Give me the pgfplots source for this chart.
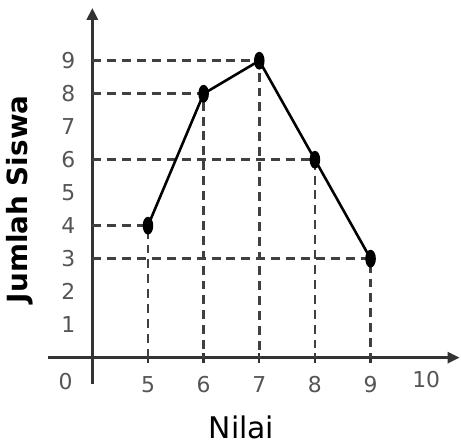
\documentclass[border=0pt]{standalone}
\usepackage{fontspec}
\setmainfont{DejaVu Sans}
\usepackage{pgfplots}
\pgfplotsset{compat=1.18}
\usetikzlibrary{arrows.meta}

\definecolor{axisgray}{HTML}{333333}
\definecolor{dashgray}{HTML}{404040}
\definecolor{labelgray}{HTML}{555555}

\begin{document}
\begin{tikzpicture}
  \begin{axis}[
      x=28pt, y=16.6pt,
      xmin=-0.8, xmax=6.6,
      ymin=-0.8, ymax=10.6,
      axis lines=middle,
      axis line style={axisgray, line width=1.4pt, -{Triangle[length=6pt,width=5.5pt]}},
      clip=false,
      xtick={1,2,3,4,5},
      xticklabels={5,6,7,8,9},
      extra x ticks={6},
      extra x tick labels={10},
      extra x tick style={major tick length=0pt},
      ytick={1,...,9},
      yticklabels={1,2,3,4,5,6,7,8,9},
      major tick length=5pt,
      ytick style={draw=none},
      xtick style={axisgray, line width=1.2pt},
      /pgf/number format/assume math mode=true,
      tick label style={font=\fontsize{11}{13}\selectfont, text=labelgray},
      xticklabel style={yshift=-3.5pt},
      yticklabel style={xshift=-2.5pt},
    ]
    % dashed guide lines
    \addplot[dashgray, line width=1.3pt, dash pattern=on 4.5pt off 3pt] coordinates {(0,4) (1,4) (1,0)};
    \addplot[dashgray, line width=1.3pt, dash pattern=on 4.5pt off 3pt] coordinates {(0,8) (2,8) (2,0)};
    \addplot[dashgray, line width=1.3pt, dash pattern=on 4.5pt off 3pt] coordinates {(0,9) (3,9) (3,0)};
    \addplot[dashgray, line width=1.3pt, dash pattern=on 4.5pt off 3pt] coordinates {(0,6) (4,6) (4,0)};
    \addplot[dashgray, line width=1.3pt, dash pattern=on 4.5pt off 3pt] coordinates {(0,3) (5,3) (5,0)};

    % data
    \addplot[black, line width=1.3pt, mark=*, mark size=2pt,
             mark options={yscale=1.9, fill=black}] coordinates {
      (1,4) (2,8) (3,9) (4,6) (5,3)
    };

    \node[text=labelgray, font=\fontsize{11}{13}\selectfont] at (axis cs:-0.48,-0.72) {0};
    \node[font=\fontsize{15}{18}\selectfont] at (axis cs:2.68,-2.1) {Nilai};
    \node[rotate=90, font=\bfseries\fontsize{14}{17}\selectfont] at (axis cs:-1.3,4.8) {Jumlah Siswa};

    \path (axis cs:-1.607,-2.5) rectangle (axis cs:6.625,10.84);
  \end{axis}
\end{tikzpicture}
\end{document}
